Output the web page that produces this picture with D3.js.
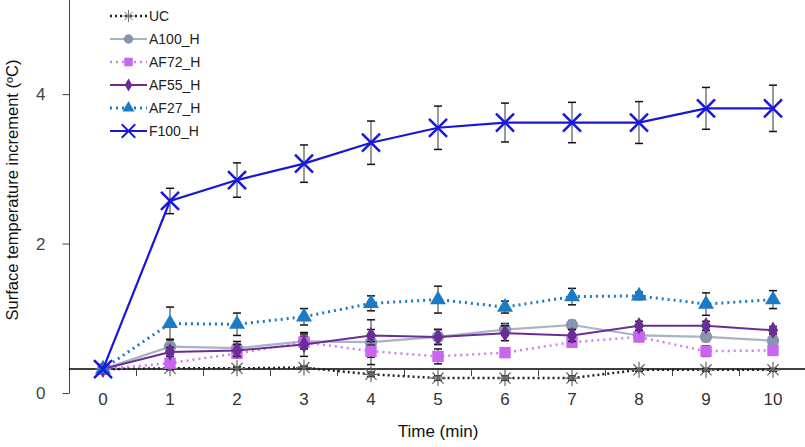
<!DOCTYPE html>
<html>
<head>
<meta charset="utf-8">
<script src="https://cdn.jsdelivr.net/npm/d3@7"></script>
<style>
  body { margin: 0; background: #fff; }
  svg { display: block; font-family: "Liberation Sans", Arial, sans-serif; }
</style>
</head>
<body>
<div id="chart"></div>
<script>
// data
var times = [0, 1, 2, 3, 4, 5, 6, 7, 8, 9, 10]
var yTicks = [0, 2, 4]

var ucVals    = [0.32, 0.33, 0.33, 0.34, 0.25, 0.20, 0.20, 0.20, 0.31, 0.31, 0.31]
var ucErr     = [0, 0.02, 0.02, 0.02, 0.03, 0.03, 0.03, 0.03, 0.02, 0.02, 0.02]
var a100Vals  = [0.32, 0.62, 0.60, 0.69, 0.68, 0.75, 0.85, 0.91, 0.77, 0.75, 0.70]
var a100Err   = [0, 0.10, 0.09, 0.10, 0.30, 0.10, 0.08, 0.06, 0.06, 0.06, 0.06]
var af72Vals  = [0.32, 0.40, 0.53, 0.68, 0.56, 0.49, 0.54, 0.68, 0.75, 0.56, 0.57]
var af72Err   = [0, 0.05, 0.06, 0.08, 0.08, 0.10, 0.06, 0.06, 0.06, 0.07, 0.05]
var af55Vals  = [0.32, 0.55, 0.57, 0.65, 0.77, 0.75, 0.80, 0.77, 0.90, 0.90, 0.84]
var af55Err   = [0, 0.06, 0.08, 0.16, 0.08, 0.10, 0.10, 0.08, 0.06, 0.06, 0.05]
var af27Vals  = [0.32, 0.93, 0.92, 1.02, 1.20, 1.25, 1.15, 1.29, 1.30, 1.19, 1.25]
var af27Err   = [0, 0.22, 0.15, 0.11, 0.10, 0.18, 0.08, 0.11, 0.05, 0.15, 0.12]
var f100Vals  = [0.32, 2.57, 2.85, 3.07, 3.35, 3.55, 3.62, 3.62, 3.62, 3.81, 3.81]
var f100Err   = [0, 0.17, 0.23, 0.25, 0.29, 0.29, 0.26, 0.27, 0.28, 0.28, 0.31]

var series = [
  { name: 'UC', vals: ucVals, err: ucErr, color: '#222', mcolor: '#666', dash: '2,3', width: 2.5, marker: 'asterisk' },
  { name: 'A100_H', vals: a100Vals, err: a100Err, color: '#a9b3c4', mcolor: '#8796ad', dash: null, width: 2.2, marker: 'circle' },
  { name: 'AF72_H', vals: af72Vals, err: af72Err, color: '#cf7df0', mcolor: '#c965ee', dash: '2,4', width: 2.5, marker: 'square' },
  { name: 'AF55_H', vals: af55Vals, err: af55Err, color: '#6a2d98', mcolor: '#6a2d98', dash: null, width: 2, marker: 'diamond' },
  { name: 'AF27_H', vals: af27Vals, err: af27Err, color: '#1b7bbf', mcolor: '#1b7bc4', dash: '2,4', width: 3, marker: 'triangle' },
  { name: 'F100_H', vals: f100Vals, err: f100Err, color: '#1717d6', mcolor: '#1717e0', dash: null, width: 2.2, marker: 'cross' }
]

var width = 805, height = 447
var axisCross = 0.32

var svg = d3.select('#chart').append('svg')
    .attr('width', width)
    .attr('height', height)

var x = d3.scaleBand()
    .domain(times)
    .range([69.5, 806.5])
var y = d3.scaleLinear()
    .domain([0, 5.26])
    .range([393, 0])

var cx = function(t) { return x(t) + x.bandwidth() / 2 }

// y axis
var yAxis = svg.append('g')
    .attr('transform', 'translate(69.5,0)')
    .call(d3.axisLeft(y).tickValues(yTicks).tickFormat(d3.format('d')).tickSize(7).tickSizeOuter(0))
yAxis.select('.domain').attr('d', 'M0,' + y.range()[1] + 'V' + y(0)).attr('stroke', '#444')
yAxis.selectAll('.tick line').attr('stroke', '#444')
yAxis.selectAll('.tick text')
    .attr('x', -24)
    .attr('fill', '#444')
    .style('font-size', '17px')
    .style('font-family', '"Liberation Sans", Arial, sans-serif')

// x axis, crossing at axisCross
var xg = svg.append('g').attr('transform', 'translate(0,' + y(axisCross) + ')')
xg.append('line')
    .attr('x1', 69).attr('x2', width)
    .attr('stroke', '#000').attr('stroke-width', 1.5)
xg.selectAll('.sep')
    .data(times.slice(1))
    .enter().append('line')
    .attr('x1', function(d) { return x(d) }).attr('x2', function(d) { return x(d) })
    .attr('y1', 0).attr('y2', 7)
    .attr('stroke', '#444')
svg.append('g').selectAll('text')
    .data(times)
    .enter().append('text')
    .attr('x', cx)
    .attr('y', 405)
    .attr('text-anchor', 'middle')
    .attr('fill', '#333')
    .style('font-size', '17px')
    .text(function(d) { return d })

// axis titles
svg.append('text')
    .attr('x', 438).attr('y', 437)
    .attr('text-anchor', 'middle')
    .attr('fill', '#111')
    .style('font-size', '17px')
    .text('Time (min)')
svg.append('text')
    .attr('transform', 'translate(18,190) rotate(-90)')
    .attr('text-anchor', 'middle')
    .attr('fill', '#111')
    .style('font-size', '16.5px')
    .text('Surface temperature increment (ºC)')

function drawMarker(g, type, color) {
  if (type === 'asterisk') {
    var p = d3.path(), r = 8
    p.moveTo(-r, 0); p.lineTo(r, 0)
    p.moveTo(-r * 0.7, -r * 0.7); p.lineTo(r * 0.7, r * 0.7)
    p.moveTo(-r * 0.7, r * 0.7); p.lineTo(r * 0.7, -r * 0.7)
    p.moveTo(0, -r); p.lineTo(0, r)
    g.append('path').attr('d', p.toString()).attr('stroke', color).attr('stroke-width', 1.2).attr('fill', 'none')
  } else if (type === 'cross') {
    var q = d3.path(), s = 9
    q.moveTo(-s, -s); q.lineTo(s, s)
    q.moveTo(-s, s); q.lineTo(s, -s)
    g.append('path').attr('d', q.toString()).attr('stroke', color).attr('stroke-width', 2.5).attr('fill', 'none')
  } else {
    var sym = { circle: d3.symbolCircle, square: d3.symbolSquare, diamond: d3.symbolDiamond, triangle: d3.symbolTriangle }[type]
    var size = { circle: 120, square: 130, diamond: 90, triangle: 110 }[type]
    g.append('path').attr('d', d3.symbol().type(sym).size(size)()).attr('fill', color)
  }
}

var line = d3.line()
    .x(function(d) { return cx(d.t) })
    .y(function(d) { return y(d.v) })

series.forEach(function(s) {
  var pts = times.map(function(t, i) { return { t: t, v: s.vals[i], e: s.err[i] } })
  var g = svg.append('g').attr('class', s.name)
  // error bars
  var eb = g.selectAll('.eb').data(pts.filter(function(d) { return d.e > 0 })).enter().append('g')
  eb.append('line')
    .attr('x1', function(d) { return cx(d.t) }).attr('x2', function(d) { return cx(d.t) })
    .attr('y1', function(d) { return y(d.v + d.e) }).attr('y2', function(d) { return y(d.v - d.e) })
    .attr('stroke', '#555').attr('stroke-width', 1.2)
  eb.selectAll('.cap').data(function(d) { return [d.v + d.e, d.v - d.e].map(function(v) { return { t: d.t, v: v } }) })
    .enter().append('line')
    .attr('x1', function(d) { return cx(d.t) - 4 }).attr('x2', function(d) { return cx(d.t) + 4 })
    .attr('y1', function(d) { return y(d.v) }).attr('y2', function(d) { return y(d.v) })
    .attr('stroke', '#111').attr('stroke-width', 1.5)
  g.append('path')
    .datum(pts)
    .attr('d', line)
    .attr('fill', 'none')
    .attr('stroke', s.color)
    .attr('stroke-width', s.width)
    .attr('stroke-dasharray', s.dash)
  g.selectAll('.mk').data(pts).enter().append('g')
    .attr('transform', function(d) { return 'translate(' + cx(d.t) + ',' + y(d.v) + ')' })
    .each(function() { drawMarker(d3.select(this), s.marker, s.mcolor) })
})

// legend
var legend = svg.append('g').attr('transform', 'translate(110,16)')
series.forEach(function(s, i) {
  var row = legend.append('g').attr('transform', 'translate(0,' + (i * 23) + ')')
  row.append('line')
    .attr('x1', 0).attr('x2', 37)
    .attr('stroke', s.color).attr('stroke-width', s.width)
    .attr('stroke-dasharray', s.dash)
  var m = row.append('g').attr('transform', 'translate(18.5,0) scale(0.75)')
  drawMarker(m, s.marker, s.mcolor)
  row.append('text')
    .attr('x', 39).attr('y', 5)
    .attr('fill', '#222')
    .style('font-size', '14px')
    .text(s.name)
})
</script>
</body>
</html>
